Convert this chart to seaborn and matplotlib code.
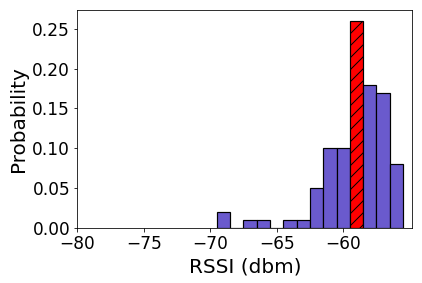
import matplotlib
matplotlib.use("Agg")
import matplotlib.pyplot as plt
import seaborn as sns
import numpy as np

# RSSI values (dbm) and their probability
rssi = [-69, -68, -67, -66, -65, -64, -63, -62, -61, -60, -59, -58, -57, -56]
prob = [0.02, 0.00, 0.01, 0.01, 0.00, 0.01, 0.01, 0.05, 0.10, 0.10, 0.26, 0.18, 0.17, 0.08]
highlight = -59  # the most likely bin

sns.set_style("ticks")
plt.rcParams['font.family'] = ['DejaVu Sans']

fig, ax = plt.subplots(figsize=(422 / 72, 283 / 72), dpi=72)
fig.subplots_adjust(left=0.183, right=0.977, top=0.964, bottom=0.193)

sns.histplot(x=rssi, weights=prob, discrete=True, stat="probability",
             color="slateblue", alpha=1, edgecolor="black", linewidth=1.2, ax=ax)

# 最頻値のビンを赤 + 斜線にする
for p in ax.patches:
    if abs(p.get_x() + p.get_width() / 2 - highlight) < 0.01:
        p.set_facecolor("red")
        p.set_hatch("//")

ax.set_xlim(left=-80)
ax.set_xticks([-80, -75, -70, -65, -60])
ax.set_yticks([0.00, 0.05, 0.10, 0.15, 0.20, 0.25])
ax.set_yticklabels(["0.00", "0.05", "0.10", "0.15", "0.20", "0.25"])
ax.tick_params(labelsize=17, colors="black")
ax.set_xlabel("RSSI (dbm)", fontsize=20, color="black")
ax.set_ylabel("Probability", fontsize=20, color="black")
for s in ax.spines.values():
    s.set_color("black")

plt.savefig("out.png", dpi=72)
